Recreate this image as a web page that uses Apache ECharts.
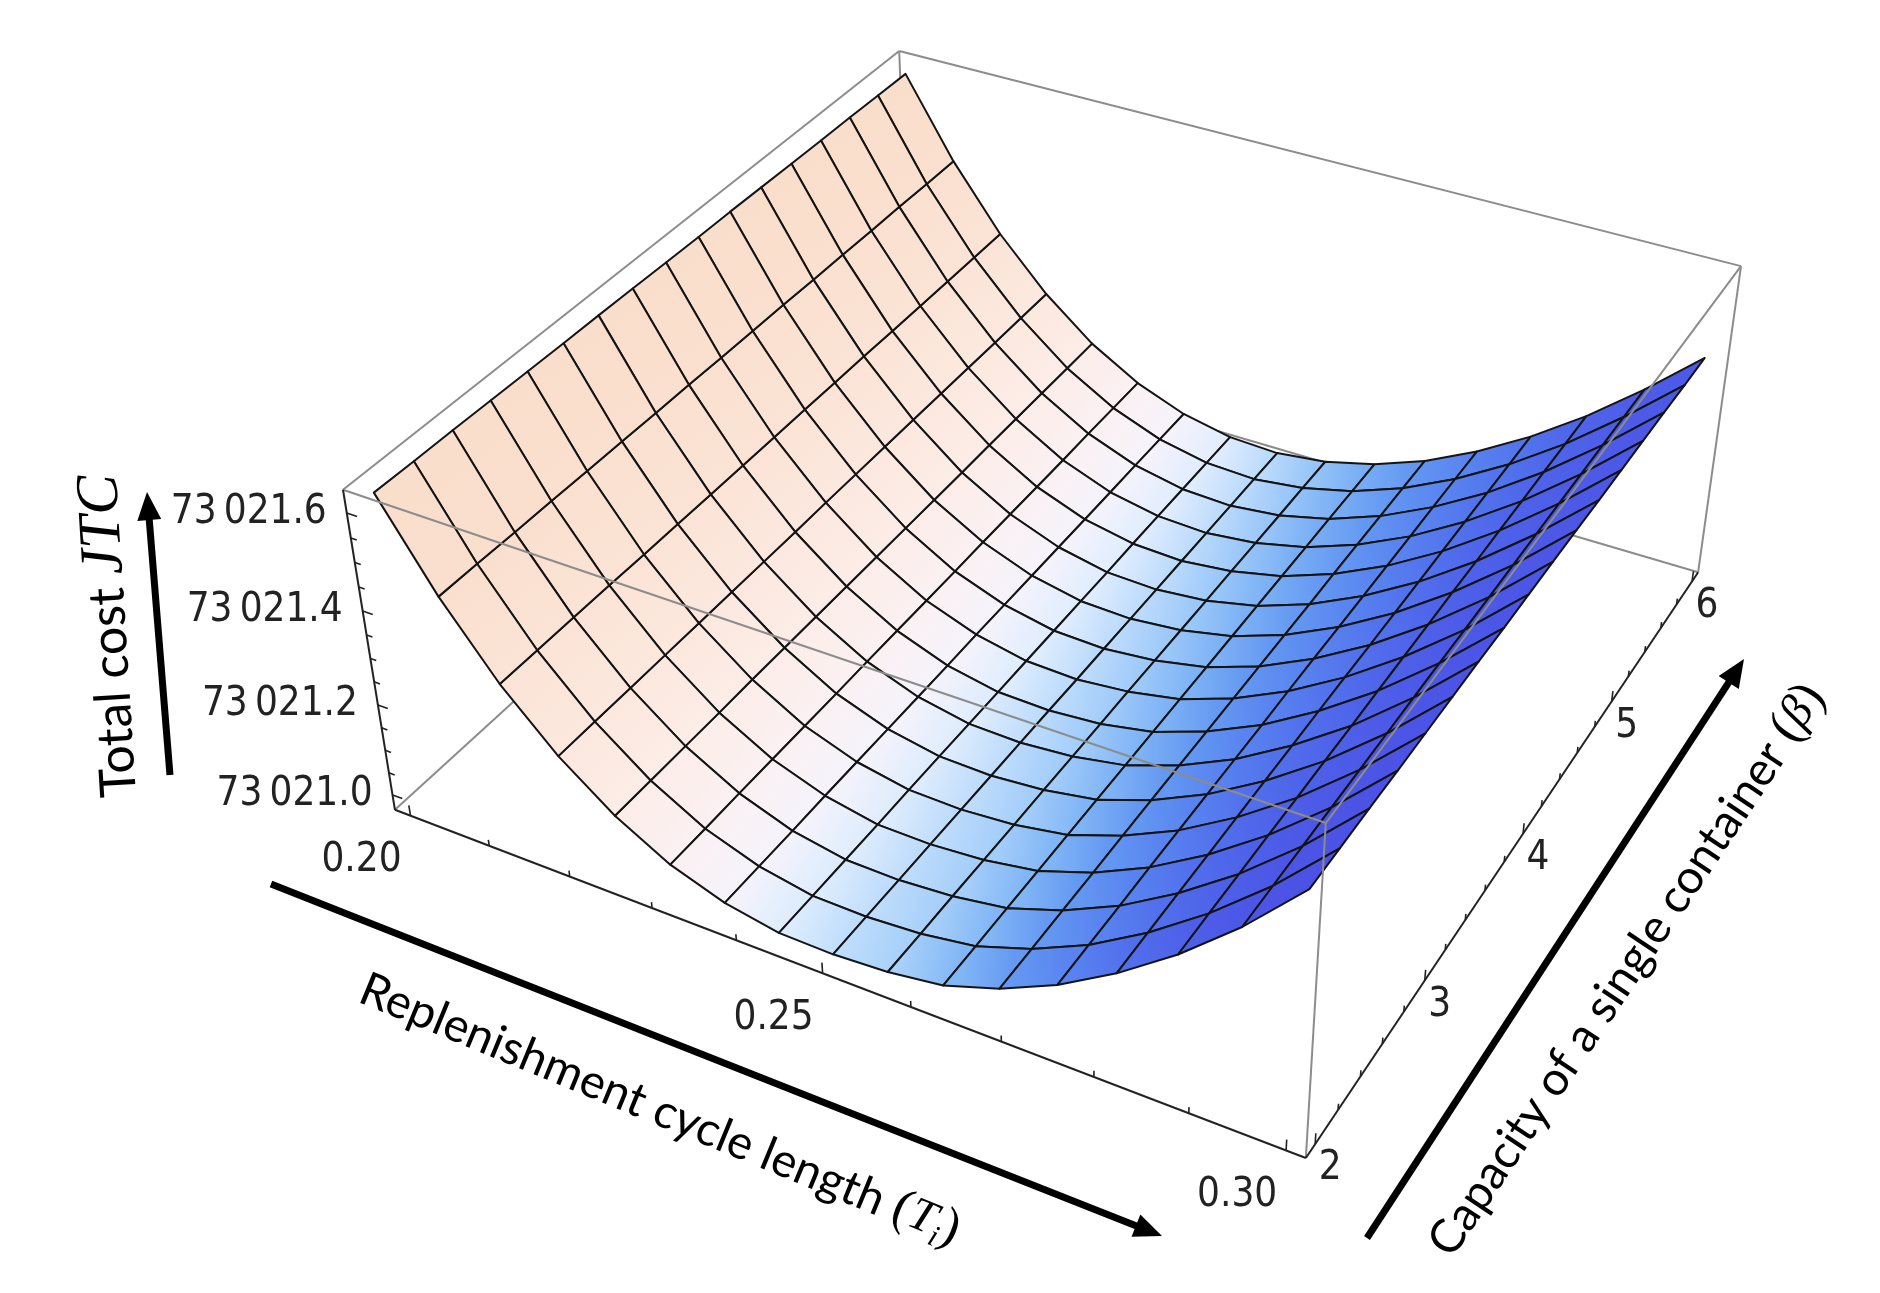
<!DOCTYPE html>
<html>
<head>
<meta charset="utf-8">
<title>Total cost JTC surface</title>
<script src="https://cdn.jsdelivr.net/npm/echarts@6/dist/echarts.min.js"></script>
<style>
  html, body { margin: 0; padding: 0; background: #fff; }
  #chart { width: 1880px; height: 1293px; }
</style>
</head>
<body>
<div id="chart"></div>
<script>
// replenishment cycle length T_i at each mesh line
var cycleLengths = [0.2, 0.20625, 0.2125, 0.21875, 0.225, 0.23125, 0.2375, 0.24375, 0.25,
  0.25625, 0.2625, 0.26875, 0.275, 0.28125, 0.2875, 0.29375, 0.3];
// capacity of a single container (beta) at each mesh line
var capacities = [2, 2.25, 2.5, 2.75, 3, 3.25, 3.5, 3.75, 4, 4.25, 4.5, 4.75, 5, 5.25, 5.5, 5.75, 6];
// total cost JTC: one row per capacity, one column per cycle length
var totalCost = [
  [73021.631, 73021.457, 73021.313, 73021.199, 73021.111, 73021.046, 73021.005, 73020.983, 73020.981, 73020.988, 73021.005, 73021.045, 73021.100, 73021.172, 73021.258, 73021.360, 73021.480],
  [73021.630, 73021.457, 73021.313, 73021.199, 73021.111, 73021.046, 73021.005, 73020.983, 73020.981, 73020.988, 73021.006, 73021.046, 73021.101, 73021.173, 73021.259, 73021.360, 73021.479],
  [73021.630, 73021.456, 73021.313, 73021.199, 73021.111, 73021.047, 73021.005, 73020.983, 73020.981, 73020.989, 73021.007, 73021.047, 73021.102, 73021.174, 73021.259, 73021.360, 73021.478],
  [73021.629, 73021.456, 73021.313, 73021.199, 73021.111, 73021.047, 73021.006, 73020.983, 73020.981, 73020.989, 73021.008, 73021.048, 73021.104, 73021.175, 73021.260, 73021.360, 73021.476],
  [73021.628, 73021.455, 73021.312, 73021.199, 73021.112, 73021.047, 73021.006, 73020.984, 73020.981, 73020.989, 73021.009, 73021.050, 73021.105, 73021.176, 73021.260, 73021.360, 73021.475],
  [73021.627, 73021.455, 73021.312, 73021.199, 73021.112, 73021.047, 73021.006, 73020.984, 73020.981, 73020.990, 73021.010, 73021.051, 73021.106, 73021.177, 73021.261, 73021.360, 73021.474],
  [73021.627, 73021.454, 73021.312, 73021.199, 73021.112, 73021.048, 73021.006, 73020.984, 73020.981, 73020.990, 73021.011, 73021.052, 73021.107, 73021.178, 73021.261, 73021.360, 73021.473],
  [73021.626, 73021.454, 73021.312, 73021.199, 73021.112, 73021.048, 73021.006, 73020.984, 73020.981, 73020.990, 73021.012, 73021.053, 73021.108, 73021.179, 73021.262, 73021.360, 73021.471],
  [73021.625, 73021.453, 73021.312, 73021.200, 73021.112, 73021.048, 73021.007, 73020.984, 73020.980, 73020.991, 73021.013, 73021.054, 73021.110, 73021.180, 73021.263, 73021.359, 73021.470],
  [73021.624, 73021.453, 73021.312, 73021.200, 73021.112, 73021.048, 73021.007, 73020.984, 73020.980, 73020.991, 73021.014, 73021.055, 73021.111, 73021.180, 73021.263, 73021.359, 73021.469],
  [73021.624, 73021.453, 73021.312, 73021.200, 73021.112, 73021.049, 73021.007, 73020.984, 73020.980, 73020.991, 73021.015, 73021.056, 73021.112, 73021.181, 73021.264, 73021.359, 73021.468],
  [73021.623, 73021.452, 73021.312, 73021.200, 73021.112, 73021.049, 73021.007, 73020.984, 73020.980, 73020.991, 73021.016, 73021.057, 73021.113, 73021.182, 73021.264, 73021.359, 73021.466],
  [73021.622, 73021.452, 73021.311, 73021.200, 73021.113, 73021.049, 73021.007, 73020.985, 73020.980, 73020.992, 73021.017, 73021.059, 73021.114, 73021.183, 73021.265, 73021.359, 73021.465],
  [73021.621, 73021.451, 73021.311, 73021.200, 73021.113, 73021.049, 73021.007, 73020.985, 73020.980, 73020.992, 73021.018, 73021.060, 73021.115, 73021.184, 73021.265, 73021.359, 73021.464],
  [73021.621, 73021.451, 73021.311, 73021.200, 73021.113, 73021.050, 73021.008, 73020.985, 73020.980, 73020.992, 73021.019, 73021.061, 73021.117, 73021.185, 73021.266, 73021.359, 73021.463],
  [73021.620, 73021.450, 73021.311, 73021.200, 73021.113, 73021.050, 73021.008, 73020.985, 73020.980, 73020.993, 73021.020, 73021.062, 73021.118, 73021.186, 73021.266, 73021.359, 73021.461],
  [73021.619, 73021.450, 73021.311, 73021.200, 73021.113, 73021.050, 73021.008, 73020.985, 73020.980, 73020.993, 73021.021, 73021.063, 73021.119, 73021.187, 73021.267, 73021.359, 73021.460]
];
var cycleTicks = [0.20, 0.25, 0.30];
var capacityTicks = [2, 3, 4, 5, 6];
var costTicks = [73021.0, 73021.2, 73021.4, 73021.6];

// plot box (with a little padding round the data) and camera
var tRange = [0.198, 0.302];
var betaRange = [1.92, 6.08];
var costRange = [73020.966, 73021.646];
var viewPoint = [1.3, -2.4, 2];
var boxRatios = [1, 1, 0.4];

function dot(a, b) { return a[0] * b[0] + a[1] * b[1] + a[2] * b[2]; }
function cross(a, b) { return [a[1] * b[2] - a[2] * b[1], a[2] * b[0] - a[0] * b[2], a[0] * b[1] - a[1] * b[0]]; }
function unit(a) { var l = Math.sqrt(dot(a, a)); return [a[0] / l, a[1] / l, a[2] / l]; }

var fwd = unit([-viewPoint[0], -viewPoint[1], -viewPoint[2]]);
var side = unit(cross(fwd, [0, 0, 1]));
var upv = cross(side, fwd);

function toBox(t, b, c) {
  return [
    ((t - tRange[0]) / (tRange[1] - tRange[0]) - 0.5) * boxRatios[0],
    ((b - betaRange[0]) / (betaRange[1] - betaRange[0]) - 0.5) * boxRatios[1],
    ((c - costRange[0]) / (costRange[1] - costRange[0]) - 0.5) * boxRatios[2]
  ];
}
function projectBox(p) {
  var r = [p[0] - viewPoint[0], p[1] - viewPoint[1], p[2] - viewPoint[2]];
  var d = dot(r, fwd);
  return [dot(r, side) / d, dot(r, upv) / d];
}
function project(t, b, c) { return projectBox(toBox(t, b, c)); }

// extent of the projected box -> hidden axes
var ext = { x0: Infinity, x1: -Infinity, y0: Infinity, y1: -Infinity };
tRange.forEach(function (t) {
  betaRange.forEach(function (b) {
    costRange.forEach(function (c) {
      var p = project(t, b, c);
      ext.x0 = Math.min(ext.x0, p[0]); ext.x1 = Math.max(ext.x1, p[0]);
      ext.y0 = Math.min(ext.y0, p[1]); ext.y1 = Math.max(ext.y1, p[1]);
    });
  });
});

// shading: colour by the T-component of the surface normal
var shadeStops = [
  [0.86, [250, 222, 204]], [0.78, [251, 228, 214]], [0.65, [252, 235, 228]],
  [0.5, [252, 240, 240]], [0.35, [249, 243, 250]], [0.2, [238, 243, 254]],
  [0.05, [208, 230, 253]], [-0.1, [172, 211, 251]], [-0.25, [135, 187, 247]],
  [-0.4, [102, 157, 243]], [-0.55, [85, 125, 239]], [-0.65, [78, 100, 234]], [-0.75, [75, 82, 229]]
];
function shade(nx) {
  if (nx >= shadeStops[0][0]) return 'rgb(' + shadeStops[0][1].join(',') + ')';
  for (var i = 1; i < shadeStops.length; i++) {
    if (nx >= shadeStops[i][0]) {
      var a = shadeStops[i - 1], b = shadeStops[i];
      var f = (nx - b[0]) / (a[0] - b[0]);
      var c = [0, 1, 2].map(function (n) { return Math.round(b[1][n] + f * (a[1][n] - b[1][n])); });
      return 'rgb(' + c.join(',') + ')';
    }
  }
  return 'rgb(' + shadeStops[shadeStops.length - 1][1].join(',') + ')';
}
var zScale = boxRatios[2] / (costRange[1] - costRange[0]);
function nodeNormal(k, j) {
  var k0 = Math.max(k - 1, 0), k1 = Math.min(k + 1, cycleLengths.length - 1);
  var j0 = Math.max(j - 1, 0), j1 = Math.min(j + 1, capacities.length - 1);
  var st = (totalCost[j][k1] - totalCost[j][k0]) / (cycleLengths[k1] - cycleLengths[k0]);
  var sb = (totalCost[j1][k] - totalCost[j0][k]) / (capacities[j1] - capacities[j0]);
  var gx = st * zScale * (tRange[1] - tRange[0]) / boxRatios[0];
  var gy = sb * zScale * (betaRange[1] - betaRange[0]) / boxRatios[1];
  return unit([-gx, -gy, 1]);
}
function columnColor(k, j) {
  return shade((nodeNormal(k, j)[0] + nodeNormal(k, j + 1)[0]) / 2);
}

// mesh cells, painted far to near
var cells = [];
for (var j = 0; j < capacities.length - 1; j++) {
  for (var k = 0; k < cycleLengths.length - 1; k++) {
    var p = toBox((cycleLengths[k] + cycleLengths[k + 1]) / 2, (capacities[j] + capacities[j + 1]) / 2,
      (totalCost[j][k] + totalCost[j][k + 1] + totalCost[j + 1][k] + totalCost[j + 1][k + 1]) / 4);
    var dist = Math.sqrt(Math.pow(p[0] - viewPoint[0], 2) + Math.pow(p[1] - viewPoint[1], 2) + Math.pow(p[2] - viewPoint[2], 2));
    cells.push([k, j, dist]);
  }
}
cells.sort(function (a, b) { return b[2] - a[2]; });

// box edges: [t0, b0, c0, t1, b1, c1]
var tA = tRange[0], tB = tRange[1], bA = betaRange[0], bB = betaRange[1], cA = costRange[0], cB = costRange[1];
var backEdges = [
  [tA, bA, cB, tA, bB, cB], [tA, bB, cB, tB, bB, cB], [tA, bA, cA, tA, bB, cA],
  [tA, bB, cA, tB, bB, cA], [tA, bB, cA, tA, bB, cB]
];
var frontEdges = [
  [tA, bA, cB, tB, bA, cB], [tB, bA, cA, tB, bA, cB], [tB, bA, cB, tB, bB, cB], [tB, bB, cA, tB, bB, cB]
];
var axisEdges = [
  [tA, bA, cA, tB, bA, cA], [tB, bA, cA, tB, bB, cA], [tA, bA, cA, tA, bA, cB]
];

function edgeRenderer(color, width) {
  return function (params, api) {
    var p0 = api.coord(project(api.value(0), api.value(1), api.value(2)));
    var p1 = api.coord(project(api.value(3), api.value(4), api.value(5)));
    return { type: 'line', shape: { x1: p0[0], y1: p0[1], x2: p1[0], y2: p1[1] },
      style: { stroke: color, lineWidth: width } };
  };
}

// ticks: [axis, value, major]
var tickItems = [];
for (var i = 0; i <= 10; i++) {
  var v = +(0.2 + i * 0.01).toFixed(2);
  tickItems.push([0, v, cycleTicks.indexOf(v) >= 0 ? 1 : 0]);
}
for (i = 0; i <= 20; i++) {
  v = +(2 + i * 0.2).toFixed(1);
  tickItems.push([1, v, capacityTicks.indexOf(v) >= 0 ? 1 : 0]);
}
for (i = 0; i <= 12; i++) {
  v = +(73021 + i * 0.05).toFixed(2);
  tickItems.push([2, v, costTicks.indexOf(v) >= 0 ? 1 : 0]);
}
var tickFont = '"Liberation Sans Narrow", "DejaVu Sans Condensed", "Liberation Sans", sans-serif';

function renderTick(params, api) {
  var axis = api.value(0), v = api.value(1), major = api.value(2) === 1;
  var base, tip, text, off, align;
  if (axis === 0) {
    base = toBox(v, bA, cA);
    tip = [base[0], base[1], base[2] + (major ? 0.014 : 0.008)];
    text = v.toFixed(2); off = [-49, 45]; align = 'center';
  } else if (axis === 1) {
    base = toBox(tB, v, cA);
    tip = [base[0], base[1], base[2] + (major ? 0.014 : 0.008)];
    text = String(v); off = [15, 25]; align = 'center';
  } else {
    base = toBox(tA, bA, v);
    tip = [base[0] + (major ? 0.012 : 0.007), base[1], base[2]];
    var s = v.toFixed(1);
    text = s.slice(0, 2) + '\u2009' + s.slice(2); off = [-20, 0]; align = 'right';
  }
  var p0 = api.coord(projectBox(base)), p1 = api.coord(projectBox(tip));
  var children = [{ type: 'line', shape: { x1: p0[0], y1: p0[1], x2: p1[0], y2: p1[1] },
    style: { stroke: '#222', lineWidth: 1.6 } }];
  if (major) {
    children.push({ type: 'text', x: p0[0] + off[0], y: p0[1] + off[1],
      style: { text: text, fill: '#222', fontSize: 40, fontFamily: tickFont,
        font: '40px ' + tickFont, align: align, textAlign: align,
        verticalAlign: 'middle', textVerticalAlign: 'middle' } });
  }
  return { type: 'group', children: children };
}

function renderCell(params, api) {
  var k = api.value(0), j = api.value(1);
  var idx = [[k, j], [k + 1, j], [k + 1, j + 1], [k, j + 1]];
  var pts = idx.map(function (n) {
    return api.coord(project(cycleLengths[n[0]], capacities[n[1]], totalCost[n[1]][n[0]]));
  });
  var l = [(pts[0][0] + pts[3][0]) / 2, (pts[0][1] + pts[3][1]) / 2];
  var r = [(pts[1][0] + pts[2][0]) / 2, (pts[1][1] + pts[2][1]) / 2];
  return {
    type: 'polygon',
    shape: { points: pts },
    style: {
      fill: { type: 'linear', x: l[0], y: l[1], x2: r[0], y2: r[1], global: true,
        colorStops: [{ offset: 0, color: columnColor(k, j) }, { offset: 1, color: columnColor(k + 1, j) }] },
      stroke: '#141414', lineWidth: 2, lineJoin: 'round'
    }
  };
}

function arrow(from, to) {
  var dx = to[0] - from[0], dy = to[1] - from[1], len = Math.sqrt(dx * dx + dy * dy);
  var ux = dx / len, uy = dy / len, head = 28, half = 12;
  var bx = to[0] - ux * head, by = to[1] - uy * head;
  return [
    { type: 'line', shape: { x1: from[0], y1: from[1], x2: bx + ux * 4, y2: by + uy * 4 },
      style: { stroke: '#000', lineWidth: 7 } },
    { type: 'polygon', shape: { points: [to, [bx - uy * half, by + ux * half], [bx + uy * half, by - ux * half]] },
      style: { fill: '#000' } }
  ];
}

var titleFont = 'Lato, "Open Sans", sans-serif';
var mathFont = '"Liberation Serif", "DejaVu Serif", serif';
var titleRich = {
  n: { fontFamily: titleFont, fontSize: 47, fill: '#000', lineHeight: 58 },
  it: { fontFamily: mathFont, fontStyle: 'italic', fontSize: 47, fill: '#000', lineHeight: 58 },
  par: { fontFamily: mathFont, fontSize: 52, fill: '#000', lineHeight: 58 },
  sub: { fontFamily: mathFont, fontStyle: 'italic', fontSize: 30, fill: '#000', lineHeight: 32, verticalAlign: 'bottom' },
  cn: { fontFamily: titleFont, fontSize: 50, fill: '#000', lineHeight: 64 },
  cit: { fontFamily: mathFont, fontStyle: 'italic', fontSize: 60, fill: '#000', lineHeight: 64 }
};

var graphics = []
  .concat(arrow([170, 775], [147, 492]))
  .concat(arrow([271, 884], [1162, 1236]))
  .concat(arrow([1367, 1238], [1744, 659]))
  .concat([
    { type: 'text', x: 110, y: 636, rotation: 93.5 * Math.PI / 180,
      style: { text: '{cn|Total cost }{cit|JTC}', rich: titleRich, align: 'center', verticalAlign: 'middle' } },
    { type: 'text', x: 660, y: 1110, rotation: -22.4 * Math.PI / 180,
      style: { text: '{n|Replenishment cycle length }{par|(}{it|T}{sub|i}{par|)}', rich: titleRich, align: 'center', verticalAlign: 'middle' } },
    { type: 'text', x: 1627, y: 970, rotation: 56.3 * Math.PI / 180,
      style: { text: '{n|Capacity of a single container }{par|(}{it|β}{par|)}', rich: titleRich, align: 'center', verticalAlign: 'middle' } }
  ]);

var chart = echarts.init(document.getElementById('chart'));
chart.setOption({
  animation: false,
  backgroundColor: '#fff',
  grid: { left: 343, top: 51, width: 1398, height: 1107 },
  xAxis: { type: 'value', min: ext.x0, max: ext.x1, show: false },
  yAxis: { type: 'value', min: ext.y0, max: ext.y1, show: false },
  graphic: { elements: graphics },
  series: [
    { type: 'custom', name: 'back edges', z: 1, silent: true, data: backEdges, renderItem: edgeRenderer('#8c8c8c', 2) },
    { type: 'custom', name: 'JTC', z: 2, silent: true, data: cells, renderItem: renderCell },
    { type: 'custom', name: 'front edges', z: 3, silent: true, data: frontEdges, renderItem: edgeRenderer('#8c8c8c', 2) },
    { type: 'custom', name: 'axes', z: 4, silent: true, data: axisEdges, renderItem: edgeRenderer('#222', 2) },
    { type: 'custom', name: 'ticks', z: 4, silent: true, data: tickItems, renderItem: renderTick }
  ]
});
</script>
</body>
</html>
